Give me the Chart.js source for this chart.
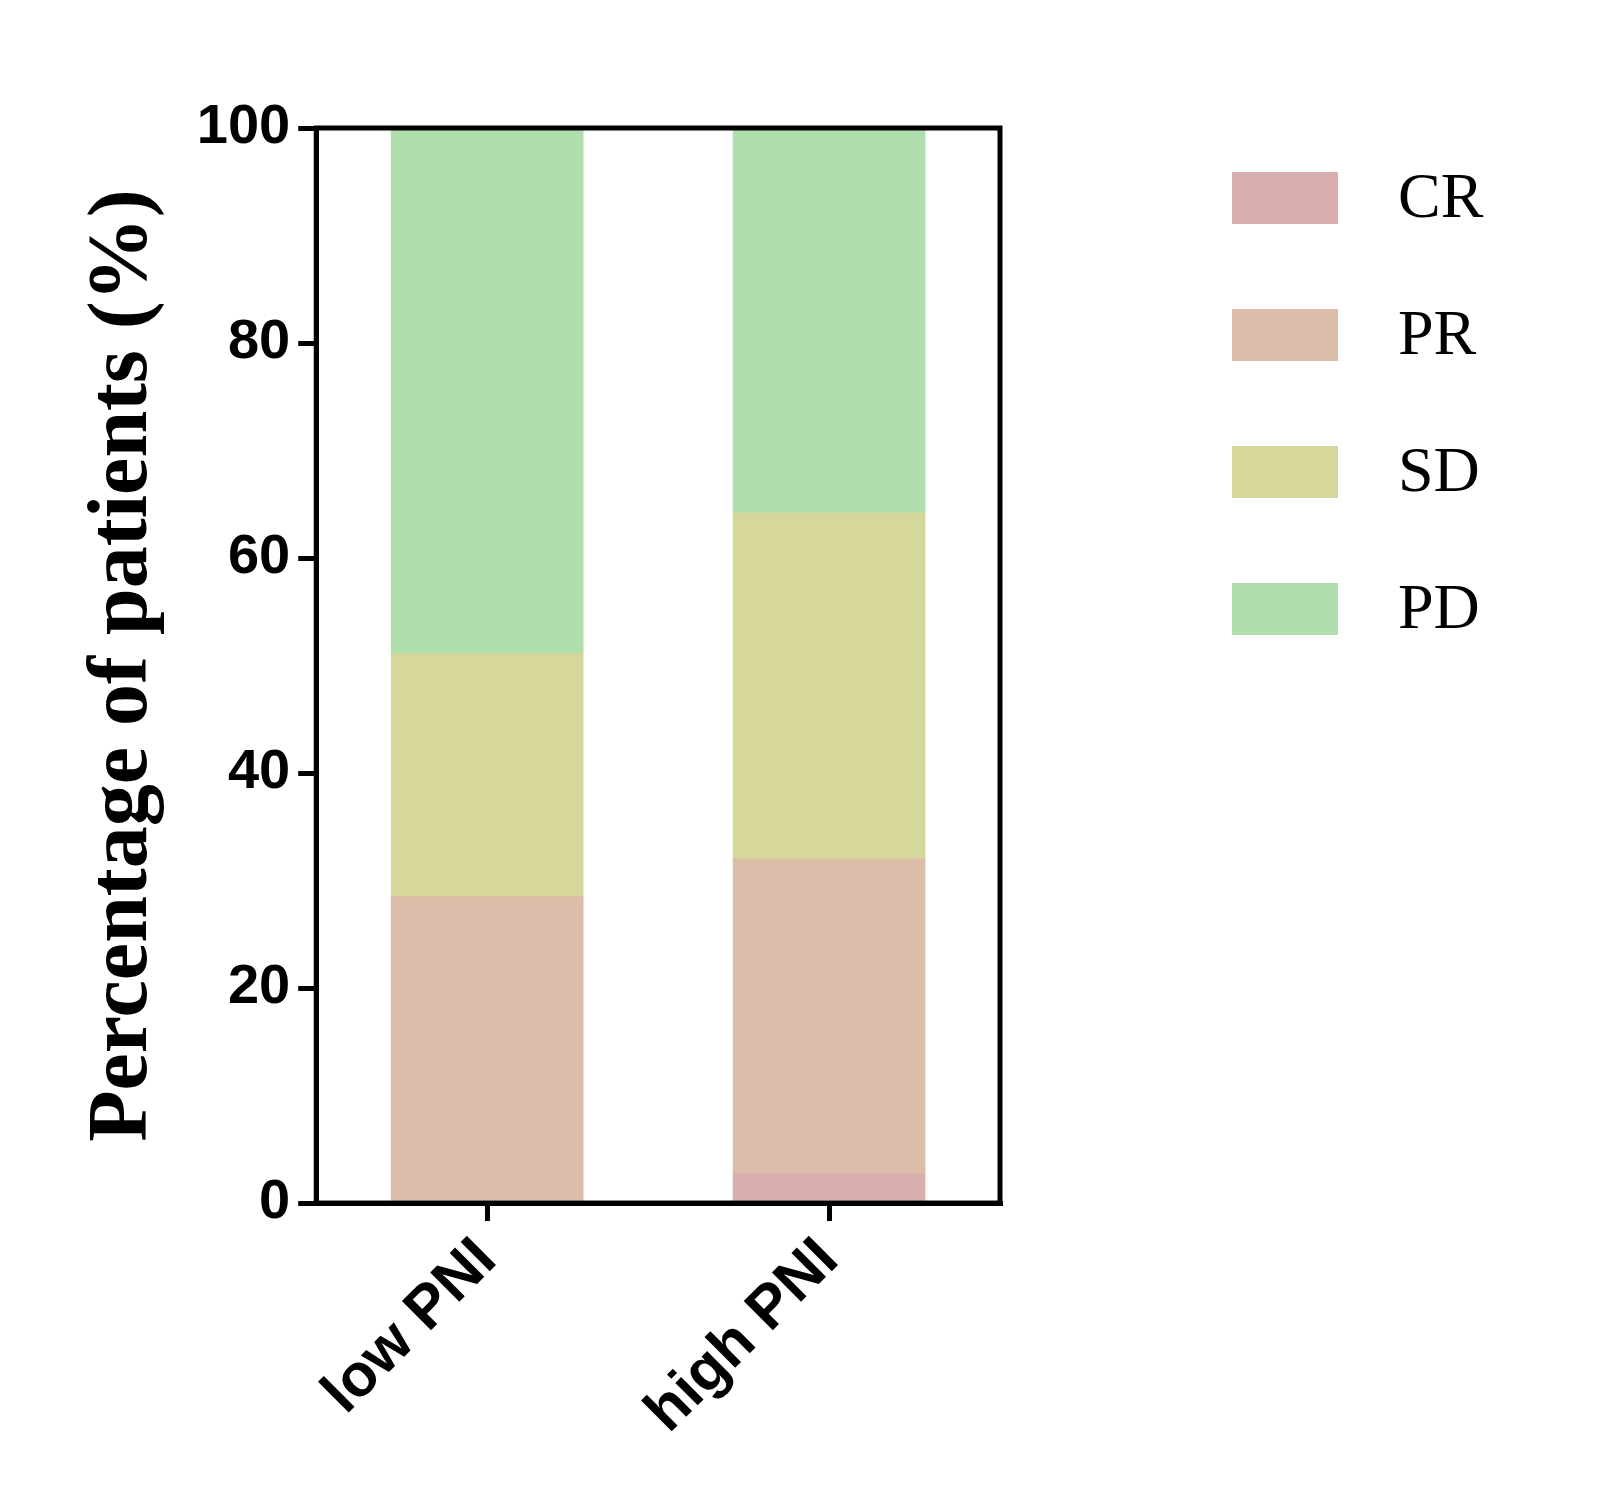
<!DOCTYPE html>
<html>
<head>
<meta charset="utf-8">
<script src="https://cdn.jsdelivr.net/npm/chart.js@4/dist/chart.umd.min.js"></script>
<style>body{margin:0;background:#fff}</style>
</head>
<body>
<canvas id="c" width="1597" height="1512"></canvas>
<script>
// data
const groups = ["low PNI", "high PNI"];
const seriesNames = ["CR", "PR", "SD", "PD"];
const crValues = [0, 2.7];
const prValues = [28.5, 29.3];
const sdValues = [22.6, 32.2];
const pdValues = [48.9, 35.8];
const yTicks = [0, 20, 40, 60, 80, 100];
const colors = ["#d9aeae", "#dbbca8", "#d6d79a", "#aedfac"];

const allValues = [crValues, prValues, sdValues, pdValues];

function makeSet(i) {
    return {
        label: seriesNames[i],
        data: allValues[i],
        backgroundColor: colors[i],
        barThickness: 192,
    };
}

// frame around the plot + legend on the right
const framePlugin = {
    id: "frame",
    afterDraw(chart) {
        const ctx = chart.ctx;
        const a = chart.chartArea;
        ctx.save();
        ctx.strokeStyle = "#000";
        ctx.lineWidth = 5;
        ctx.strokeRect(a.left, a.top, a.right - a.left, a.bottom - a.top);
        ctx.font = "64px 'Liberation Serif', 'Times New Roman', serif";
        ctx.textBaseline = "middle";
        chart.data.datasets.forEach((ds, i) => {
            const y = 172 + i * 137;
            ctx.fillStyle = ds.backgroundColor;
            ctx.fillRect(1232, y, 106, 52);
            ctx.fillStyle = "#000";
            ctx.fillText(ds.label, 1398, y + 28);
        });
        ctx.restore();
    },
};

new Chart(document.getElementById("c").getContext("2d"), {
    type: "bar",
    data: { labels: groups, datasets: seriesNames.map((n, i) => makeSet(i)) },
    options: {
        responsive: false,
        animation: false,
        layout: { padding: { left: 70, top: 128, right: 597, bottom: 60 } },
        plugins: { legend: { display: false }, tooltip: { enabled: false } },
        scales: {
            x: {
                stacked: true,
                grid: { drawOnChartArea: false, offset: false, color: "#000", lineWidth: 5, tickLength: 18 },
                border: { color: "#000", width: 5 },
                ticks: {
                    minRotation: 45,
                    maxRotation: 45,
                    color: "#000",
                    padding: 4,
                    font: { family: "Liberation Sans, Arial", weight: "bold", size: 60 },
                },
            },
            y: {
                stacked: true,
                min: 0,
                max: 100,
                afterBuildTicks(scale) { scale.ticks = yTicks.map(v => ({ value: v })); },
                grid: { drawOnChartArea: false, color: "#000", lineWidth: 5, tickLength: 18 },
                border: { color: "#000", width: 5 },
                ticks: {
                    color: "#000",
                    padding: 8,
                    font: { family: "Liberation Sans, Arial", weight: "bold", size: 56 },
                },
                title: {
                    display: true,
                    text: "Percentage of patients (%)",
                    color: "#000",
                    padding: { bottom: 14 },
                    font: { family: "Liberation Serif, 'Times New Roman'", weight: "bold", size: 84 },
                },
            },
        },
    },
    plugins: [framePlugin],
});
</script>
</body>
</html>
